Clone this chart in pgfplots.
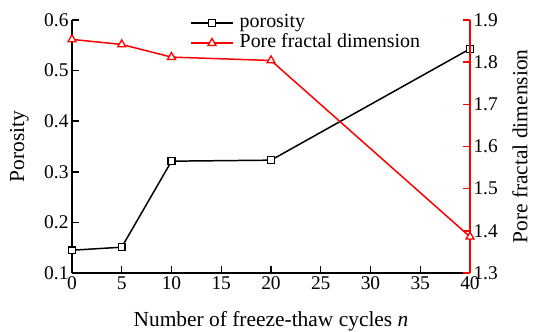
\documentclass[border=0pt]{standalone}
\usepackage{fontspec}
\setmainfont{Liberation Serif}
\usepackage{pgfplots}
\pgfplotsset{compat=1.18}
\newcommand{\tickf}{\fontsize{19.5}{21}\selectfont}
\newcommand{\labf}{\fontsize{21.5}{24}\selectfont}
\newcommand{\legf}{\fontsize{20}{20}\selectfont}
\pgfplotsset{
  common/.style={
    scale only axis, width=398bp, height=253bp,
    xmin=0, xmax=40,
    tick align=inside,
    major tick length=7bp,
    /pgf/number format/assume math mode=true,
    every tick label/.append style={font=\tickf},
    every axis label/.append style={font=\labf},
    axis line style={line width=1.8pt,-},
  },
  longlegend/.style={legend image code/.code={
    \draw[mark repeat=2,mark phase=2,##1] plot coordinates {(0bp,0bp) (21bp,0bp) (42bp,0bp)};}},
}
\begin{document}
\begin{tikzpicture}
\begin{axis}[common,
  ymin=0.1, ymax=0.6,
  axis x line*=bottom, axis y line*=left,
  xtick={0,5,10,15,20,25,30,35,40},
  ytick={0.1,0.2,0.3,0.4,0.5,0.6},
  yticklabel style={/pgf/number format/.cd, fixed, precision=1, fixed zerofill},
  xlabel={Number of freeze-thaw cycles \textit{n}},
  ylabel={Porosity},
  every axis x label/.style={at={(axis description cs:0.5,-0.1897)}, anchor=center},
  every axis y label/.style={at={(axis description cs:-0.132,0.5)}, rotate=90, anchor=center},
  every tick/.style={black, line width=1.5pt},
]
\addplot[black, line width=1.5pt, mark=square*, mark size=3.4bp, mark options={line width=1.4pt, fill=white}]
  coordinates {(0,0.145) (5,0.151) (10,0.321) (20,0.323) (40,0.543)};
\end{axis}
\begin{axis}[common,
  ymin=1.3, ymax=1.9,
  axis x line=none, axis y line*=right,
  ytick={1.3,1.4,1.5,1.6,1.7,1.8,1.9},
  yticklabel style={/pgf/number format/.cd, fixed, precision=1, fixed zerofill},
  y axis line style={red},
  every tick/.style={red, line width=1.5pt},
  ylabel={Pore fractal dimension},
  every axis y label/.style={at={(axis description cs:1.1256,0.5)}, rotate=90, anchor=center},
  legend style={at={(0.2965,1.026)}, anchor=north west, draw=none, fill=none,
    font=\legf, inner sep=0pt, row sep=1bp, column sep=6bp,
    nodes={inner sep=0pt, text height=14bp, text depth=5bp}},
  legend cell align=left,
]
\addlegendimage{longlegend, black, line width=1.5pt, mark=square*, mark size=3.4bp, mark options={line width=1.4pt, fill=white}}
\addlegendentry{porosity}
\addplot[longlegend, red, line width=1.5pt, mark=triangle*, mark size=4.6bp, mark options={line width=1.3pt, fill=white}]
  coordinates {(0,1.854) (5,1.842) (10,1.812) (20,1.804) (40,1.386)};
\addlegendentry{Pore fractal dimension}
\end{axis}
\pgfresetboundingbox
\path[use as bounding box] (-72bp,-59bp) rectangle (461bp,273bp);
\end{tikzpicture}
\end{document}
